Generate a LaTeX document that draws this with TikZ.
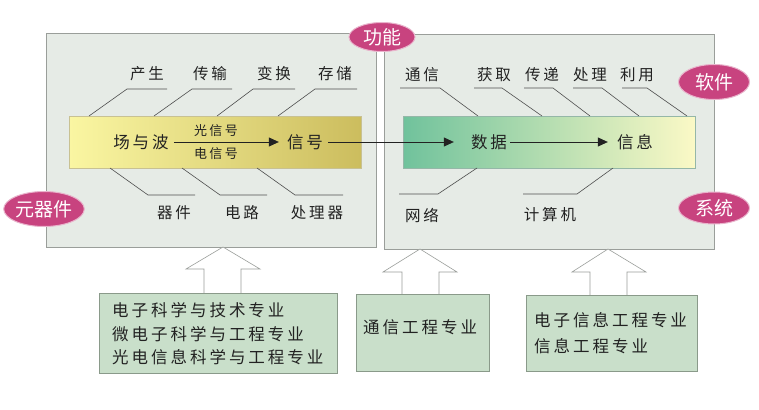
\documentclass[tikz,border=0pt]{standalone}
\usepackage{fontspec}
\setmainfont{Noto Sans CJK SC}
\newfontfamily\cjk[LetterSpace=18]{Noto Sans CJK SC}
\newfontfamily\cjkb{Noto Sans CJK SC}
\usetikzlibrary{arrows.meta,shapes.geometric}
\definecolor{panelbg}{HTML}{E6EBE6}
\definecolor{panelln}{HTML}{9A9E9A}
\definecolor{badge}{HTML}{C8437F}
\definecolor{boxbg}{HTML}{C9DFCA}
\definecolor{boxln}{HTML}{8A9A8A}
\definecolor{yl}{HTML}{FAF6A2}
\definecolor{yr}{HTML}{CCBD5E}
\definecolor{gl}{HTML}{70C29C}
\definecolor{gr}{HTML}{FBF9C6}
\definecolor{ink}{HTML}{222222}
\tikzset{
  panel/.style={draw=panelln, fill=panelbg, line width=0.7pt},
  badgebox/.style={ellipse, fill=badge, draw=badge!40, line width=1pt, text=white, font=\cjkb\fontsize{19}{19}\selectfont, inner sep=0pt},
  lbl/.style={font=\cjk\fontsize{15.5}{15.5}\selectfont, text=ink, inner sep=1pt},
  inlbl/.style={font=\cjk\fontsize{16.5}{16.5}\selectfont, text=ink, inner sep=1pt},
  small/.style={font=\cjk\fontsize{13}{13}\selectfont, text=ink, inner sep=0pt},
  bone/.style={draw=ink!80, line width=0.6pt},
  flow/.style={draw=ink, line width=0.8pt, -{Triangle[length=10pt,width=9pt]}},
  major/.style={draw=boxln, fill=boxbg, line width=0.7pt},
  blockarrow/.style={draw=panelln, fill=white, line width=0.6pt},
  boxtext/.style={font=\cjk\fontsize{16.5}{24}\selectfont, text=ink, align=left, anchor=west, inner sep=0pt}
}
\begin{document}
\begin{tikzpicture}[x=1pt,y=-1pt]
\useasboundingbox (0,0) rectangle (759,409);
\fill[white] (0,0) rectangle (759,409);
% panels
\draw[panel] (46,33) rectangle (376,247);
\draw[panel] (384,34) rectangle (714,249);
% bars
\shade[left color=yl, right color=yr, draw=yr!80!black!60, line width=0.4pt] (69,116) rectangle (361,168);
\shade[left color=gl, right color=gr, draw=gl!70!black!60, line width=0.4pt] (403,116) rectangle (695,168);
% fishbone lines left top
\draw[bone] (89,116) -- (127,89) -- (167,89);
\draw[bone] (154,116) -- (192,89) -- (232,89);
\draw[bone] (217,116) -- (253,89) -- (295,89);
\draw[bone] (278,116) -- (315,89) -- (357,89);
% left bottom
\draw[bone] (110,168) -- (148,195) -- (195,195);
\draw[bone] (182,168) -- (220,195) -- (267,195);
\draw[bone] (257,168) -- (295,195) -- (343,195);
% right top
\draw[bone] (400,88) -- (440,88) -- (478,116);
\draw[bone] (474,88) -- (502,88) -- (542,116);
\draw[bone] (524,88) -- (553,88) -- (590,116);
\draw[bone] (573,88) -- (602,88) -- (639,116);
\draw[bone] (622,88) -- (647,88) -- (687,116);
% right bottom
\draw[bone] (477,168) -- (438,194) -- (399,194);
\draw[bone] (613,168) -- (577,194) -- (523,194);
% labels
\node[lbl] (cs) at (147,74) {产生};
\node[lbl] (cs2) at (210,74) {传输};
\node[lbl] (bh) at (274,74) {变换};
\node[lbl] (cc) at (335,74) {存储};
\node[lbl] (qj) at (174,213) {器件};
\node[lbl] (dl) at (242,213) {电路};
\node[lbl] (clq) at (317,213) {处理器};
\node[lbl] (tx) at (422,75) {通信};
\node[lbl] (hq) at (494,75) {获取};
\node[lbl] (cd) at (542,75) {传递};
\node[lbl] (cl) at (590,75) {处理};
\node[lbl] (ly) at (637,75) {利用};
\node[lbl] (wl) at (422,215) {网络};
\node[lbl] (jsj) at (550,215) {计算机};
% inner flow
\node[inlbl] (cyb) at (141,142) {场与波};
\node[small] (gxh) at (216,131) {光信号};
\node[small] (dxh) at (216,154) {电信号};
\node[inlbl] (xh) at (305,142) {信号};
\node[inlbl] (sj) at (489,142) {数据};
\node[inlbl] (xx) at (635,142) {信息};
\draw[flow, shorten <=4pt, shorten >=7pt] (cyb.east) -- (xh.west);
\draw[flow, shorten <=4pt, shorten >=16pt] (xh.east) -- (sj.west);
\draw[flow, shorten <=2pt, shorten >=8pt] (sj.east) -- (xx.west);
% badges
\node[badgebox, minimum width=66pt, minimum height=29pt] (gn) at (382,37) {功能};
\node[badgebox, minimum width=73pt, minimum height=35pt] (yqj) at (44,209) {元器件};
\node[badgebox, minimum width=71pt, minimum height=35pt] (rj) at (714,82) {软件};
\node[badgebox, minimum width=71pt, minimum height=32pt] (xt) at (714,208) {系统};
% block arrows
\draw[blockarrow] (204,293) -- (204,269) -- (186,269) -- (223,247) -- (260,269) -- (241,269) -- (241,293);
\draw[blockarrow] (402,294) -- (402,272) -- (383,272) -- (420,249) -- (457,272) -- (439,272) -- (439,294);
\draw[blockarrow] (590,295) -- (590,272) -- (572,272) -- (608,249) -- (646,272) -- (627,272) -- (627,295);
% major boxes
\draw[major] (99,293) rectangle (337,373);
\draw[major] (356,294) rectangle (489,371);
\draw[major] (526,295) rectangle (697,371);
\node[boxtext] (m1a) at (112,310) {电子科学与技术专业};
\node[boxtext] (m1b) at (112,334) {微电子科学与工程专业};
\node[boxtext] (m1c) at (112,357) {光电信息科学与工程专业};
\node[boxtext] (m2) at (363,327) {通信工程专业};
\node[boxtext] (m3a) at (534,320) {电子信息工程专业};
\node[boxtext] (m3b) at (534,346) {信息工程专业};
\end{tikzpicture}
\end{document}
